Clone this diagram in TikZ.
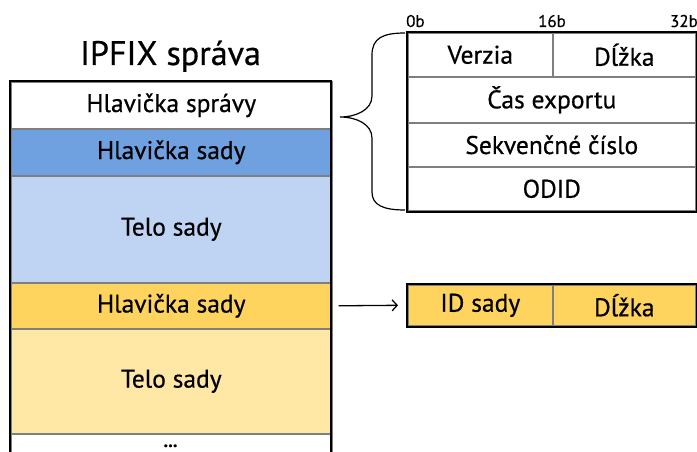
\documentclass[tikz,border=0pt]{standalone}
\usepackage{fontspec}
\setmainfont[FakeBold=0.6]{PT Sans}
\usetikzlibrary{arrows.meta}
\definecolor{hdrblue}{HTML}{6FA0E0}
\definecolor{bodyblue}{HTML}{BFD4F2}
\definecolor{hdryel}{HTML}{FFD45E}
\definecolor{bodyyel}{HTML}{FFE8A6}
\definecolor{divgray}{HTML}{7F7F7F}
\tikzset{
  cell/.style={rectangle, draw=divgray, line width=1.6pt, inner sep=0pt, anchor=north west,
    font=\fontsize{25.5}{28}\selectfont, text=black},
  outer/.style={draw=black, line width=2pt},
  bitlbl/.style={font=\fontsize{17}{20}\selectfont, inner sep=0pt, anchor=base},
}
\begin{document}
\begin{tikzpicture}[x=1pt,y=-1pt]
\useasboundingbox (0,0) rectangle (697,452);
\begin{scope}
\clip (0,0) rectangle (697,452);
% title
\node[font=\fontsize{34}{38}\selectfont, anchor=base] (title) at (170.5,65) {IPFIX správa};
% left column
\node[cell, fill=white, minimum width=321pt, minimum height=47pt] (msgh) at (10,81) {Hlavička správy};
\node[cell, fill=hdrblue, minimum width=321pt, minimum height=47pt] (s1h) at (10,128) {Hlavička sady};
\node[cell, fill=bodyblue, minimum width=321pt, minimum height=107pt] (s1b) at (10,175) {Telo sady};
\node[cell, fill=hdryel, minimum width=321pt, minimum height=46pt] (s2h) at (10,282) {Hlavička sady};
\node[cell, fill=bodyyel, minimum width=321pt, minimum height=105pt] (s2b) at (10,328) {Telo sady};
\node[cell, fill=white, minimum width=321pt, minimum height=30pt, text depth=0pt] (more) at (10,433) {};
\node[font=\fontsize{18}{20}\selectfont\bfseries, anchor=base] (dots) at (170.5,447) {...};
\draw[outer] (10,460) |- (331,81) -- (331,460);
% message header detail
\node[cell, minimum width=145pt, minimum height=44pt] (ver) at (407,32) {Verzia};
\node[cell, minimum width=143pt, minimum height=44pt] (len) at (552,32) {Dĺžka};
\node[cell, minimum width=288pt, minimum height=46pt] (time) at (407,76) {Čas exportu};
\node[cell, minimum width=288pt, minimum height=44pt] (seq) at (407,122) {Sekvenčné číslo};
\node[cell, minimum width=288pt, minimum height=44pt] (odid) at (407,166) {ODID};
\draw[outer] (ver.north west) rectangle (odid.south east);
\node[bitlbl, anchor=base west] (b0) at (406,27) {0b};
\node[bitlbl] (b16) at (552,27) {16b};
\node[bitlbl, anchor=base east] (b32) at (698,27) {32b};
% brace
\coordinate (bt) at (405,33);
\coordinate (bb) at (405,210);
\coordinate (tip) at (340,117);
\draw[line width=1.2pt] (bt) .. controls (383,33) and (372,38) .. (372,55) -- (372,96)
  .. controls (372,110) and (356,117) .. (tip)
  .. controls (356,117) and (372,124) .. (372,138) -- (372,192)
  .. controls (372,205) and (383,210) .. (bb);
% set header detail
\node[cell, fill=hdryel, minimum width=145pt, minimum height=41pt] (sid) at (407,284) {ID sady};
\node[cell, fill=hdryel, minimum width=143pt, minimum height=41pt] (slen) at (552,284) {Dĺžka};
\draw[outer] (sid.north west) rectangle (slen.south east);
\draw[-{Straight Barb[length=5pt,width=11pt]}, line width=1.3pt] ([xshift=6pt]s2h.east) -- ([xshift=-9pt]sid.west);
\end{scope}
\end{tikzpicture}
\end{document}
